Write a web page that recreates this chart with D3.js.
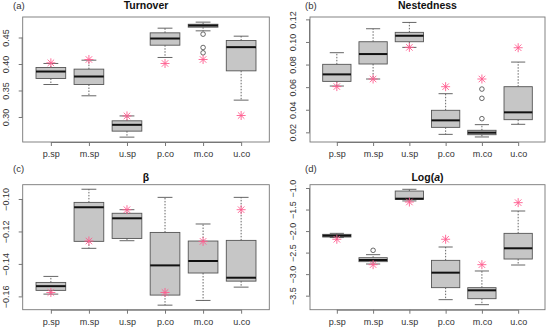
<!DOCTYPE html>
<html>
<head>
<meta charset="utf-8">
<script src="https://cdn.jsdelivr.net/npm/d3@7"></script>
<style>
  body { margin: 0; background: #fff; }
  svg { font-family: "Liberation Sans", Arial, sans-serif; }
</style>
</head>
<body>
<div id="chart"></div>
<script>
// categories shared by all four panels
var groups = ["p.sp", "m.sp", "u.sp", "p.co", "m.co", "u.co"];

// box stats per group: [lower whisker, q1, median, q3, upper whisker]
var turnoverStats = [
  [0.3613, 0.3726, 0.3858, 0.3934, 0.401],
  [0.340, 0.3613, 0.3764, 0.3903, 0.4072],
  [0.262, 0.2733, 0.2852, 0.2928, 0.302],
  [0.4123, 0.4355, 0.4481, 0.4588, 0.4676],
  [0.4626, 0.4695, 0.4726, 0.475, 0.479],
  [0.3318, 0.3871, 0.4318, 0.4443, 0.4525]
];
var turnoverOutliers = [[], [], [], [], [0.4563, 0.4311, 0.4211], []];
var turnoverObserved = [0.4022, 0.4085, 0.302, 0.401, 0.4085, 0.3028];
var turnoverTicks = [0.30, 0.35, 0.40, 0.45];

var nestedStats = [
  [0.061, 0.0651, 0.0713, 0.0802, 0.0905],
  [0.0672, 0.0805, 0.0893, 0.1002, 0.1117],
  [0.0952, 0.1002, 0.1055, 0.1085, 0.1173],
  [0.0182, 0.0244, 0.0306, 0.0395, 0.0542],
  [0.0159, 0.0179, 0.0197, 0.0218, 0.0268],
  [0.0271, 0.0312, 0.0377, 0.0604, 0.0822]
];
var nestedOutliers = [[], [], [], [], [0.0321, 0.0501, 0.0583], []];
var nestedObserved = [0.0605, 0.0672, 0.0952, 0.0604, 0.0672, 0.0949];
var nestedTicks = [0.02, 0.04, 0.06, 0.08, 0.10, 0.12];

var betaStats = [
  [-0.1586, -0.1563, -0.1537, -0.1514, -0.1477],
  [-0.1304, -0.1261, -0.1051, -0.1021, -0.094],
  [-0.1257, -0.1243, -0.1119, -0.1088, -0.1066],
  [-0.1654, -0.1592, -0.1409, -0.1206, -0.099],
  [-0.1625, -0.1456, -0.1382, -0.1259, -0.1154],
  [-0.1543, -0.1506, -0.1485, -0.1255, -0.099]
];
var betaOutliers = [[], [], [], [], [], []];
var betaObserved = [-0.1576, -0.1259, -0.1066, -0.1576, -0.1261, -0.1066];
var betaTicks = [-0.16, -0.14, -0.12, -0.10];

var logaStats = [
  [-2.15, -2.138, -2.107, -2.076, -2.053],
  [-2.765, -2.71, -2.672, -2.618, -2.548],
  [-1.30, -1.263, -1.248, -1.07, -1.03],
  [-3.593, -3.314, -2.966, -2.68, -2.37],
  [-3.709, -3.57, -3.376, -3.314, -2.927],
  [-2.788, -2.649, -2.40, -2.053, -1.534]
];
var logaOutliers = [[], [-2.447], [], [], [], []];
var logaObserved = [-2.19, -2.78, -1.325, -2.19, -2.78, -1.34];
var logaTicks = [-3.5, -3.0, -2.5, -2.0, -1.5, -1.0];

var W = 550, H = 328;
var svg = d3.select("#chart").append("svg")
  .attr("width", W).attr("height", H);

var minus = function(s) { return s.replace("-", "\u2212"); };

var panels = [
  {tag: "(a)", title: "Turnover", stats: turnoverStats, out: turnoverOutliers, obs: turnoverObserved,
   ticks: turnoverTicks, fmt: d3.format(".2f"), yd: [0.2528, 0.4887],
   left: 22.7, right: 269.3, top: 17, bottom: 142, tagX: 13, tagY: 9, titleY: 9},
  {tag: "(b)", title: "Nestedness", stats: nestedStats, out: nestedOutliers, obs: nestedObserved,
   ticks: nestedTicks, fmt: d3.format(".2f"), yd: [0.01144, 0.1221],
   left: 310, right: 545, top: 17, bottom: 142, tagX: 305, tagY: 9, titleY: 9},
  {tag: "(c)", title: "β", stats: betaStats, out: betaOutliers, obs: betaObserved,
   ticks: betaTicks, fmt: d3.format(".2f"), yd: [-0.1682, -0.0912],
   left: 22.7, right: 269.3, top: 184.7, bottom: 309.7, tagX: 13, tagY: 172, titleY: 181},
  {tag: "(d)", title: "Log", stats: logaStats, out: logaOutliers, obs: logaObserved,
   ticks: logaTicks, fmt: d3.format(".1f"), yd: [-3.826, -0.923],
   left: 310, right: 545, top: 184.7, bottom: 309.7, tagX: 305, tagY: 172, titleY: 181}
];

panels.forEach(function(p, pi) {
  var g = svg.append("g");

  var x = d3.scaleLinear().domain([0.26, 6.74]).range([p.left, p.right]);
  var y = d3.scaleLinear().domain(p.yd).range([p.bottom, p.top]);
  var unit = x(2) - x(1);
  var bw = unit * 0.78;

  // panel tag and title
  g.append("text").attr("x", p.tagX).attr("y", p.tagY)
    .attr("font-size", 9.5).attr("fill", "#333").text(p.tag);
  var t = g.append("text").attr("x", (p.left + p.right) / 2).attr("y", p.titleY)
    .attr("text-anchor", "middle").attr("font-size", 10.5)
    .attr("font-weight", "bold").attr("fill", "#111");
  if (pi === 3) {
    t.append("tspan").text("Log(");
    t.append("tspan").attr("font-style", "italic").text("a");
    t.append("tspan").text(")");
  } else {
    t.text(p.title);
  }

  // boxes
  var b = g.selectAll(".box").data(p.stats).enter().append("g")
    .attr("transform", function(d, i) { return "translate(" + x(i + 1) + ",0)"; });

  b.append("line").attr("y1", function(d) { return y(d[3]); }).attr("y2", function(d) { return y(d[4]); })
    .attr("stroke", "#555").attr("stroke-width", 0.9).attr("stroke-dasharray", "1.5,1.5");
  b.append("line").attr("y1", function(d) { return y(d[1]); }).attr("y2", function(d) { return y(d[0]); })
    .attr("stroke", "#555").attr("stroke-width", 0.9).attr("stroke-dasharray", "1.5,1.5");
  b.append("line").attr("x1", -bw / 4).attr("x2", bw / 4)
    .attr("y1", function(d) { return y(d[4]); }).attr("y2", function(d) { return y(d[4]); })
    .attr("stroke", "#555").attr("stroke-width", 0.9);
  b.append("line").attr("x1", -bw / 4).attr("x2", bw / 4)
    .attr("y1", function(d) { return y(d[0]); }).attr("y2", function(d) { return y(d[0]); })
    .attr("stroke", "#555").attr("stroke-width", 0.9);
  b.append("rect").attr("x", -bw / 2).attr("width", bw)
    .attr("y", function(d) { return y(d[3]); })
    .attr("height", function(d) { return y(d[1]) - y(d[3]); })
    .attr("fill", "#c6c6c6").attr("stroke", "#555").attr("stroke-width", 0.9);
  b.append("line").attr("x1", -bw / 2).attr("x2", bw / 2)
    .attr("y1", function(d) { return y(d[2]); }).attr("y2", function(d) { return y(d[2]); })
    .attr("stroke", "#111").attr("stroke-width", 2);

  // outliers
  p.out.forEach(function(arr, i) {
    g.selectAll(null).data(arr).enter().append("circle")
      .attr("cx", x(i + 1)).attr("cy", function(d) { return y(d); })
      .attr("r", 2.3).attr("fill", "none").attr("stroke", "#444").attr("stroke-width", 0.8);
  });

  // observed values (asterisks)
  var s = 4.5, sd = s * 0.72;
  var star = g.selectAll(".star").data(p.obs).enter().append("g")
    .attr("transform", function(d, i) { return "translate(" + x(i + 1) + "," + y(d) + ")"; })
    .attr("stroke", "#ff5c8e").attr("stroke-width", 0.9);
  star.append("line").attr("x1", -s).attr("x2", s);
  star.append("line").attr("y1", -s).attr("y2", s);
  star.append("line").attr("x1", -sd).attr("y1", -sd).attr("x2", sd).attr("y2", sd);
  star.append("line").attr("x1", -sd).attr("y1", sd).attr("x2", sd).attr("y2", -sd);

  // frame
  g.append("rect").attr("x", p.left).attr("y", p.top)
    .attr("width", p.right - p.left).attr("height", p.bottom - p.top)
    .attr("fill", "none").attr("stroke", "#777").attr("stroke-width", 0.9);

  // axes
  var xAxis = d3.axisBottom(x).tickValues([1, 2, 3, 4, 5, 6])
    .tickFormat(function(d) { return groups[d - 1]; })
    .tickSize(4).tickPadding(5);
  var xg = g.append("g").attr("transform", "translate(0," + p.bottom + ")").call(xAxis);
  xg.select(".domain").attr("d", "M" + x(1) + ",0.5H" + x(6)).attr("stroke", "#777");

  var yAxis = d3.axisLeft(y).tickValues(p.ticks)
    .tickFormat(function(d) { return minus(p.fmt(d)); })
    .tickSize(4).tickPadding(0);
  var yg = g.append("g").attr("transform", "translate(" + p.left + ",0)").call(yAxis);
  yg.select(".domain").attr("d", "M-0.5," + y(p.ticks[0]) + "V" + y(p.ticks[p.ticks.length - 1])).attr("stroke", "#777");
  yg.selectAll(".tick text")
    .attr("x", null).attr("dy", null)
    .attr("transform", "translate(-14,0) rotate(-90)")
    .attr("text-anchor", "middle");

  [xg, yg].forEach(function(ag) {
    ag.selectAll(".tick line").attr("stroke", "#777");
    ag.selectAll(".tick text").attr("fill", "#333").attr("font-size", 9)
      .attr("font-family", "'Liberation Sans', Arial, sans-serif");
  });
});
</script>
</body>
</html>
